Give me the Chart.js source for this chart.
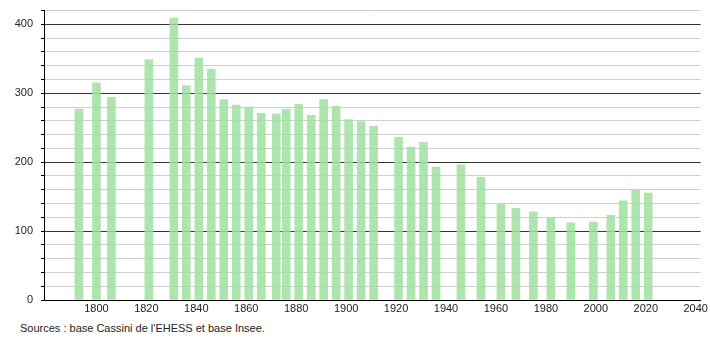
<!DOCTYPE html>
<html lang="fr">
<head>
  <meta charset="UTF-8">
  <title>Population</title>
  <script src="https://cdn.jsdelivr.net/npm/chart.js"></script>
  <style>
    body { margin: 0; background: white; font-family: "Liberation Sans", Arial, sans-serif; overflow: hidden; }
    #wrap { position: relative; width: 710px; height: 340px; }
    canvas { display: block; margin-top: -4px; }
    .src { position: absolute; left: 20px; top: 326px; font-size: 11px; color: #222; }
  </style>
</head>
<body>
  <div id="wrap">
    <canvas id="popChart" width="710" height="322"></canvas>
    <div class="src">Sources : base Cassini de l'EHESS et base Insee.</div>
  </div>

  <script>
    const years = [1793, 1800, 1806, 1821, 1831, 1836, 1841, 1846, 1851, 1856,
                   1861, 1866, 1872, 1876, 1881, 1886, 1891, 1896, 1901, 1906,
                   1911, 1921, 1926, 1931, 1936, 1946, 1954, 1962, 1968, 1975,
                   1982, 1990, 1999, 2006, 2011, 2016, 2021];
    const population = [277, 315, 294, 349, 409, 311, 351, 335, 291, 283,
                        280, 271, 270, 277, 284, 268, 291, 281, 262, 259,
                        252, 236, 222, 229, 193, 196, 178, 139, 133, 128,
                        119, 112, 113, 123, 144, 159, 155];
    const xTickYears = [1800, 1820, 1840, 1860, 1880, 1900, 1920, 1940, 1960, 1980, 2000, 2020, 2040];
    const yTickValues = [0, 20, 40, 60, 80, 100, 120, 140, 160, 180, 200, 220, 240, 260, 280, 300, 320, 340, 360, 380, 400, 420];

    const font = { family: '"Liberation Sans", Arial, sans-serif', size: 11 };

    new Chart(document.getElementById('popChart'), {
      type: 'bar',
      data: {
        datasets: [{
          data: years.map((y, i) => ({ x: y, y: population[i] })),
          backgroundColor: 'rgba(160, 225, 160, 0.85)',
          borderWidth: 0,
          barThickness: 8
        }]
      },
      options: {
        responsive: false,
        animation: false,
        layout: { padding: { top: 2, right: 9, left: 0, bottom: 0 } },
        plugins: { legend: { display: false }, tooltip: { enabled: false } },
        scales: {
          x: {
            type: 'linear',
            offset: false,
            min: 1779,
            max: 2042,
            afterBuildTicks: s => { s.ticks = xTickYears.map(v => ({ value: v })); },
            afterFit: s => { s.height = 18; },
            ticks: { color: '#222', font: font, padding: 2, maxRotation: 0, autoSkip: false, callback: v => String(v) },
            grid: { display: false, drawTicks: false },
            border: { color: '#000', width: 1 }
          },
          y: {
            min: 0,
            max: 420,
            afterBuildTicks: s => { s.ticks = yTickValues.map(v => ({ value: v })); },
            afterFit: s => { s.width = 44; },
            ticks: {
              color: '#222', font: font, padding: 8, autoSkip: false,
              callback: v => (v % 100 === 0 ? String(v) : '')
            },
            grid: {
              color: ctx => (ctx.tick && ctx.tick.value % 100 === 0 && ctx.tick.value !== 0 ? '#333' : '#cfcfcf'),
              tickColor: '#000',
              tickLength: 3,
              lineWidth: 1
            },
            border: { color: '#000', width: 1 }
          }
        }
      }
    });
  </script>
</body>
</html>
